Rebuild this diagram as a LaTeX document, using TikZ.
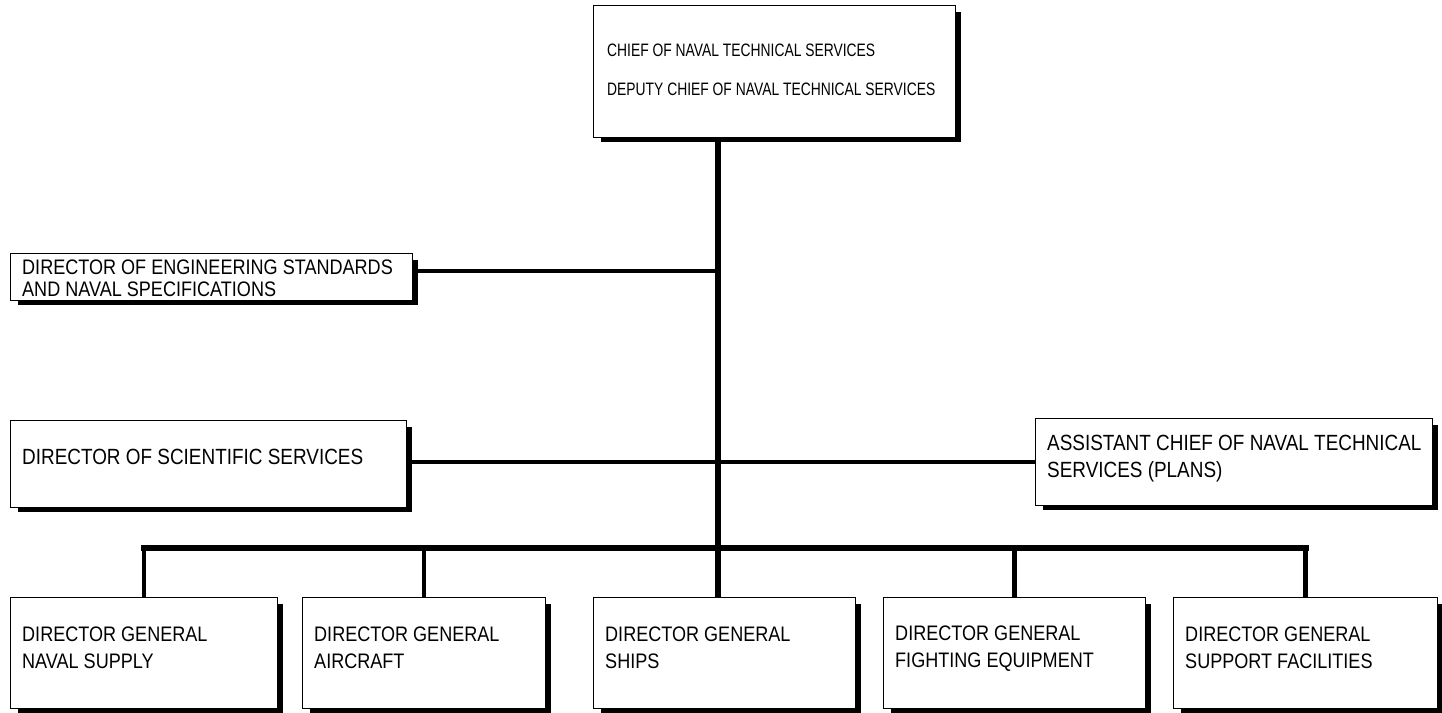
\documentclass[tikz,border=0pt]{standalone}
\usepackage{fontspec}
\newfontfamily\topfont{Liberation Sans}[FakeStretch=0.77]
\newfontfamily\lowfont{Liberation Sans}[FakeStretch=0.86]
\tikzset{
  orgbox/.style={draw, line width=1.4pt, fill=white, anchor=north west, inner sep=0pt},
  orgtext/.style={anchor=west, align=left, inner sep=0pt},
  lowtext/.style={orgtext, font=\lowfont\fontsize{22}{27}\selectfont},
  gentext/.style={orgtext, font=\lowfont\fontsize{21}{27}\selectfont},
  engtext/.style={orgtext, font=\lowfont\fontsize{21}{22}\selectfont},
  toptext/.style={orgtext, font=\topfont\fontsize{18}{39}\selectfont},
  shade/.style={line width=5pt, line cap=butt},
  link/.style={line width=4.5pt},
  trunk/.style={line width=6pt}
}
\newcommand{\boxshadow}[1]{%
  \draw[shade] ([xshift=2.2pt,yshift=-7pt]#1.north east) -- ([xshift=2.2pt,yshift=-1.2pt]#1.south east)
    -- ([xshift=8pt,yshift=-1.2pt]#1.south west);}
\begin{document}
\begin{tikzpicture}[x=1pt,y=-1pt]
\useasboundingbox[fill=white] (0,0) rectangle (1442,712);
\coordinate (bar) at (0,548);
\coordinate (tx) at (718,0);
% boxes
\node[orgbox,minimum width=362pt,minimum height=132pt] (top) at (593,5) {};
\node[orgbox,minimum width=402pt,minimum height=47pt] (eng) at (10,253) {};
\node[orgbox,minimum width=396pt,minimum height=87pt] (sci) at (10,420) {};
\node[orgbox,minimum width=397pt,minimum height=87pt] (ast) at (1035,418) {};
\node[orgbox,minimum width=267pt,minimum height=111pt] (b1) at (10,597) {};
\node[orgbox,minimum width=243pt,minimum height=111pt] (b2) at (302,597) {};
\node[orgbox,minimum width=262pt,minimum height=111pt] (b3) at (593,597) {};
\node[orgbox,minimum width=262pt,minimum height=111pt] (b4) at (883,597) {};
\node[orgbox,minimum width=264pt,minimum height=111pt] (b5) at (1173,597) {};
% shadows
\foreach \n in {top,eng,sci,ast,b1,b2,b3,b4,b5} {\boxshadow{\n}}
% texts
\node[toptext] (topt) at ([xshift=14pt,yshift=2pt]top.west)
  {CHIEF OF NAVAL TECHNICAL SERVICES\\DEPUTY CHIEF OF NAVAL TECHNICAL SERVICES};
\node[engtext] (engt) at ([xshift=12pt,yshift=-1pt]eng.west)
  {DIRECTOR OF ENGINEERING STANDARDS\\AND NAVAL SPECIFICATIONS};
\node[lowtext] (scit) at ([xshift=12pt,yshift=7pt]sci.west) {DIRECTOR OF SCIENTIFIC SERVICES};
\node[lowtext] (astt) at ([xshift=12pt,yshift=4pt]ast.west)
  {ASSISTANT CHIEF OF NAVAL TECHNICAL\\SERVICES (PLANS)};
\node[gentext] (b1t) at ([xshift=12pt,yshift=5pt]b1.west) {DIRECTOR GENERAL\\NAVAL SUPPLY};
\node[gentext] (b2t) at ([xshift=12pt,yshift=5pt]b2.west) {DIRECTOR GENERAL\\AIRCRAFT};
\node[gentext] (b3t) at ([xshift=12pt,yshift=5pt]b3.west) {DIRECTOR GENERAL\\SHIPS};
\node[gentext] (b4t) at ([xshift=12pt,yshift=5pt]b4.west) {DIRECTOR GENERAL\\FIGHTING EQUIPMENT};
\node[gentext] (b5t) at ([xshift=12pt,yshift=5pt]b5.west) {DIRECTOR GENERAL\\SUPPORT FACILITIES};
% connectors
\draw[trunk] (top.south -| tx) -- (b3.north -| tx);
\draw[link] ([xshift=2.5pt,yshift=6pt]eng.east) -- ([yshift=6pt]eng.east -| tx);
\draw[link] ([xshift=2.5pt,yshift=2pt]sci.east) -- ([yshift=2pt]sci.east -| ast.west);
\draw[trunk] ([xshift=-3pt]b1.north |- bar) -- ([xshift=3pt]b5.north |- bar);
\foreach \n in {b1,b2,b4,b5} {\draw[link] (\n.north |- bar) -- (\n.north);}
\end{tikzpicture}
\end{document}
